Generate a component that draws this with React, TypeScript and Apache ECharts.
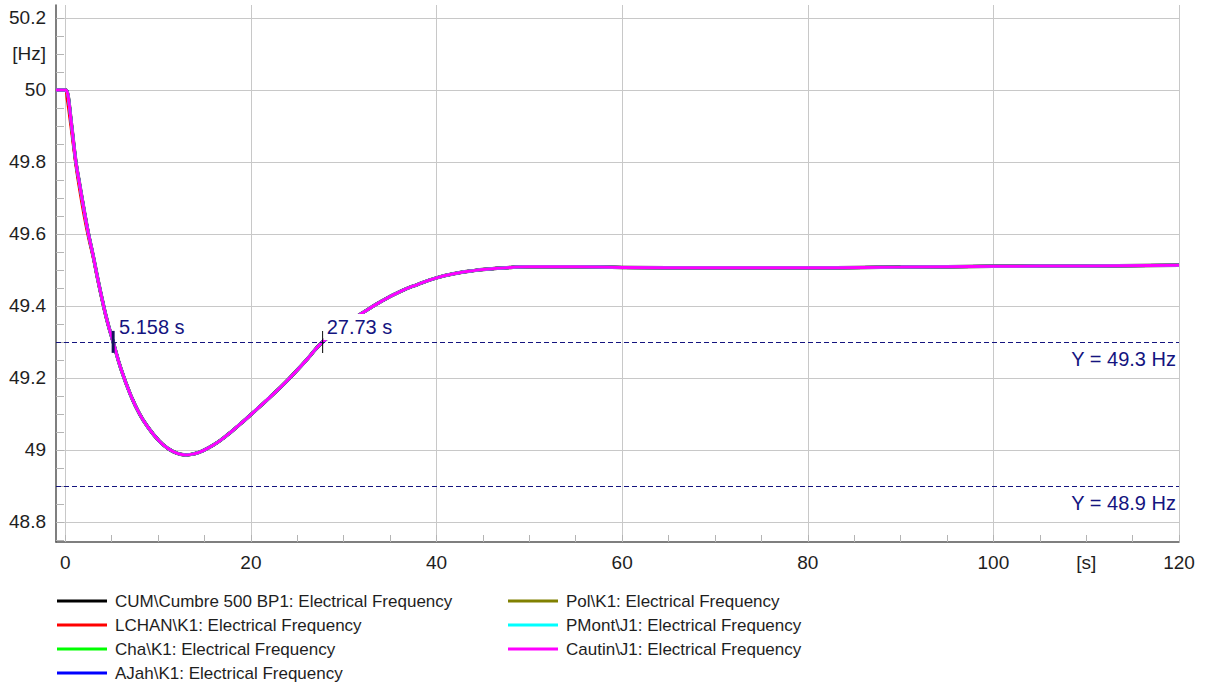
import React, { useEffect, useRef } from "react";
import * as echarts from "echarts";

const TIME = [
  -1, 0, 0.2, 0.4, 0.6, 0.8, 1.0, 1.2, 1.5, 2.0, 2.5, 3.0, 3.5, 4.0, 4.5, 5.158,
  6, 7, 8, 9, 10, 11, 12, 13, 14, 15, 16, 17, 18, 19, 20, 22, 24, 26, 27.73,
  30, 32, 34, 36, 38, 40, 42, 44, 46, 48, 50, 55, 60, 70, 80, 90, 100, 110, 120,
];

const FREQ = [
  50.0, 50.0, 49.995, 49.965, 49.92, 49.875, 49.83, 49.79, 49.745, 49.67, 49.6, 49.54,
  49.475, 49.415, 49.36, 49.3, 49.225, 49.155, 49.1, 49.06, 49.028, 49.005, 48.991,
  48.986, 48.99, 49.0, 49.014, 49.032, 49.053, 49.075, 49.098, 49.145, 49.195, 49.25,
  49.3, 49.345, 49.38, 49.412, 49.439, 49.46, 49.478, 49.49, 49.498, 49.503, 49.507,
  49.509, 49.509, 49.507, 49.506, 49.506, 49.508, 49.51, 49.511, 49.513,
];

const FREQ_RED = [
  50.0, 50.0, 49.975, 49.94, 49.9, 49.86, 49.82, 49.78, 49.73, 49.655, 49.59, 49.535,
  49.472, 49.413, 49.358, 49.3, 49.225, 49.155, 49.1, 49.06, 49.028, 49.005, 48.991,
  48.986, 48.99, 49.0, 49.014, 49.032, 49.053, 49.075, 49.098, 49.145, 49.195, 49.25,
  49.3, 49.345, 49.38, 49.412, 49.439, 49.46, 49.478, 49.49, 49.498, 49.503, 49.507,
  49.509, 49.509, 49.507, 49.506, 49.506, 49.508, 49.51, 49.511, 49.513,
];

const SERIES_NAMES = [
  "CUM\\Cumbre 500 BP1: Electrical Frequency",
  "LCHAN\\K1: Electrical Frequency",
  "Cha\\K1: Electrical Frequency",
  "AJah\\K1: Electrical Frequency",
  "Pol\\K1: Electrical Frequency",
  "PMont\\J1: Electrical Frequency",
  "Cautin\\J1: Electrical Frequency",
];
const SERIES_COLORS = ["#000000", "#ff0000", "#00ff00", "#0000ff", "#808000", "#00ffff", "#ff00ff"];
const SERIES_VALUES = [FREQ, FREQ_RED, FREQ, FREQ, FREQ, FREQ, FREQ];

const X_MIN = -1;
const X_MAX = 120;
const X_GRID = [0, 20, 40, 60, 80, 100, 120];
const X_LABELS = [0, 20, 40, 60, 80, 100, 110, 120];
const X_UNIT_AT = 110;
const X_MINOR = [
  0, 5, 10, 15, 20, 25, 30, 35, 40, 45, 50, 55, 60, 65, 70, 75, 80, 85, 90, 95, 100,
  105, 110, 115, 120,
];

const Y_MIN = 48.744;
const Y_MAX = 50.236;
const Y_LABELS = [48.8, 49, 49.2, 49.4, 49.6, 49.8, 50, 50.2];
const Y_UNIT_AT = 50.1;
const Y_MINOR = [
  48.75, 48.8, 48.85, 48.9, 48.95, 49, 49.05, 49.1, 49.15, 49.2, 49.25, 49.3, 49.35,
  49.4, 49.45, 49.5, 49.55, 49.6, 49.65, 49.7, 49.75, 49.8, 49.85, 49.9, 49.95, 50,
  50.05, 50.1, 50.15, 50.2,
];

const MARK_Y = [49.3, 48.9];
const MARK_T = [5.158, 27.73];

const FONT = "'Liberation Sans', Arial, sans-serif";
const NAVY = "#14147f";
const TEXT = "#1e1e1e";

export default function App() {
  const ref = useRef<HTMLDivElement>(null);

  useEffect(() => {
    if (!ref.current) return;
    const chart = echarts.init(ref.current, null, { renderer: "svg" });

    const lineSeries = SERIES_NAMES.map((name, i) => ({
      name,
      type: "line",
      xAxisIndex: 0,
      yAxisIndex: 0,
      data: TIME.map((t, k) => [t, SERIES_VALUES[i][k]]),
      showSymbol: false,
      symbol: "none",
      smooth: true,
      lineStyle: { color: SERIES_COLORS[i], width: i === 0 ? 3.5 : 3 },
      itemStyle: { color: SERIES_COLORS[i] },
      z: 2,
      silent: true,
    }));

    const markSeries = {
      type: "scatter",
      xAxisIndex: 0,
      yAxisIndex: 0,
      z: 10,
      silent: true,
      itemStyle: { opacity: 1 },
      data: MARK_T.map((t, i) => ({
        value: [t, MARK_Y[0]],
        symbol: "rect",
        symbolSize: i === 0 ? [3, 22] : [1, 22],
        itemStyle: { color: i === 0 ? "#14145a" : "#000000", opacity: 1 },
        label: {
          show: true,
          formatter: `${t} s`,
          position: i === 0 ? [4.3, 9] : [1.5, 9],
          align: "left",
          verticalAlign: "bottom",
          color: NAVY,
          opacity: 1,
          fontSize: 20,
          fontFamily: FONT,
          backgroundColor: "#ffffff",
          padding: [3, 4, 3, 3],
        },
      })),
      markLine: {
        silent: true,
        symbol: ["none", "none"],
        lineStyle: { color: NAVY, type: [5, 3], width: 1 },
        label: {
          show: true,
          position: "insideEndBottom",
          color: NAVY,
          fontSize: 20,
          fontFamily: FONT,
          distance: [3, 7],
        },
        data: MARK_Y.map((y) => ({
          yAxis: y,
          label: { formatter: `Y = ${y} Hz` },
        })),
      },
    };

    const legendCommon = {
      orient: "vertical",
      icon: "rect",
      itemWidth: 50,
      itemHeight: 3,
      itemGap: 0,
      padding: 0,
      selectedMode: false,
      textStyle: {
        fontSize: 17,
        fontFamily: FONT,
        color: TEXT,
        lineHeight: 24,
        padding: [0, 0, 0, 3],
      },
    };

    chart.setOption({
      animation: false,
      backgroundColor: "#ffffff",
      grid: { left: 56, right: 29, top: 5, bottom: 144, containLabel: false, outerBoundsMode: "none" },
      legend: [
        { ...legendCommon, data: SERIES_NAMES.slice(0, 4), left: 57, top: 589 },
        { ...legendCommon, data: SERIES_NAMES.slice(4), left: 508, top: 589 },
      ],
      xAxis: [
        {
          type: "value",
          min: X_MIN,
          max: X_MAX,
          position: "bottom",
          axisLine: { show: true, onZero: false, lineStyle: { color: "#555555", width: 1.5 } },
          axisTick: { show: false, customValues: X_GRID },
          axisLabel: {
            customValues: X_LABELS,
            formatter: (v: number) => (v === X_UNIT_AT ? "[s]" : String(v)),
            fontSize: 19,
            fontFamily: FONT,
            color: TEXT,
            margin: 11,
          },
          splitLine: { show: true, lineStyle: { color: "#c8c8c8", width: 1 } },
        },
        {
          type: "value",
          min: X_MIN,
          max: X_MAX,
          position: "bottom",
          axisLine: { show: false, onZero: false },
          axisTick: { show: true, inside: true, length: 7, customValues: X_MINOR, lineStyle: { color: "#b4b4b4" } },
          axisLabel: { show: false },
          splitLine: { show: false },
        },
      ],
      yAxis: [
        {
          type: "value",
          min: Y_MIN,
          max: Y_MAX,
          position: "left",
          axisLine: { show: true, onZero: false, lineStyle: { color: "#555555", width: 1.5 } },
          axisTick: { show: false, customValues: Y_LABELS },
          axisLabel: {
            customValues: Y_LABELS,
            formatter: (v: number) => String(v),
            fontSize: 19,
            fontFamily: FONT,
            color: TEXT,
            margin: 10,
          },
          splitLine: { show: true, lineStyle: { color: "#c8c8c8", width: 1 } },
        },
        {
          type: "value",
          min: Y_MIN,
          max: Y_MAX,
          position: "left",
          axisLine: { show: false, onZero: false },
          axisTick: { show: true, inside: true, length: 8, customValues: Y_MINOR, lineStyle: { color: "#b4b4b4" } },
          axisLabel: {
            customValues: [Y_UNIT_AT],
            formatter: () => "[Hz]",
            fontSize: 19,
            fontFamily: FONT,
            color: TEXT,
            margin: 10,
          },
          splitLine: { show: false },
        },
      ],
      series: [...lineSeries, markSeries],
    });

    return () => chart.dispose();
  }, []);

  return (
    <div
      ref={ref}
      style={{ position: "fixed", left: 0, top: 0, width: 1208, height: 686, background: "#fff" }}
    />
  );
}
